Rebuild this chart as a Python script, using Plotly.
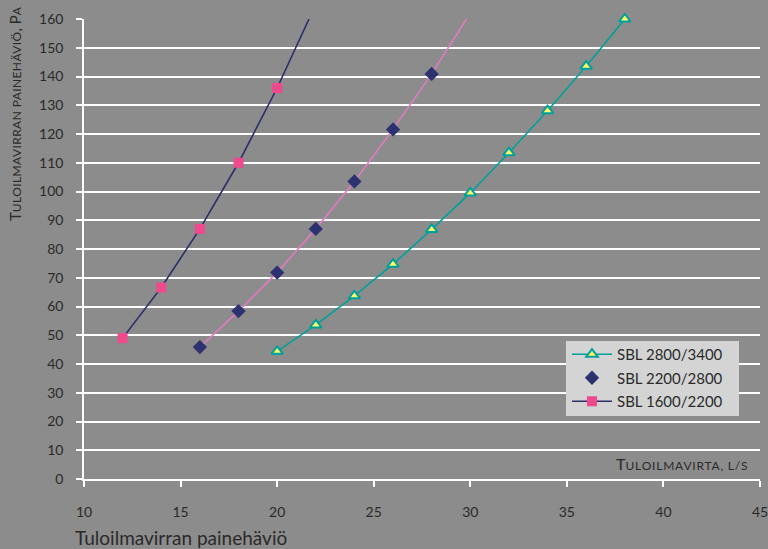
import plotly.graph_objects as go

# Data
x_2800 = [20, 22, 24, 26, 28, 30, 32, 34, 36, 38]
y_2800 = [44.4, 53.6, 63.7, 74.7, 86.8, 99.5, 113.5, 128.1, 143.6, 160]

x_2200 = [16, 18, 20, 22, 24, 26, 28]
y_2200 = [45.9, 58.4, 71.8, 87.0, 103.5, 121.6, 140.9]
# pink fitted line through 2200/2800 points (read end where it leaves the top)
x_2200_line = [16, 18, 20, 22, 24, 26, 28, 29.8]
y_2200_line = [45.9, 58.4, 71.8, 87.0, 103.5, 121.6, 140.9, 160]

x_1600 = [12, 14, 16, 18, 20]
y_1600 = [49.0, 66.6, 87.0, 110.0, 136.0]
# dark line continues beyond last marker to the top edge
x_1600_ext = [20, 21.65]
y_1600_ext = [136.0, 160]

x_ticks = [10, 15, 20, 25, 30, 35, 40, 45]
y_ticks = list(range(0, 161, 10))

FONT = "Lato"
TXT = "#2a2a2a"
BG = "#8c8c8c"

W, H = 768, 549
ML, MR, MT, MB = 84, 8, 19, 70
PW, PH = W - ML - MR, H - MT - MB


def px(xp):
    return (xp - ML) / PW


def py(yp):
    return (H - MB - yp) / PH


fig = go.Figure()

# helper line traces (no legend)
fig.add_trace(go.Scatter(x=x_2200_line, y=y_2200_line, mode="lines",
                         line=dict(color="#e07cbf", width=1.6),
                         showlegend=False, hoverinfo="skip"))
fig.add_trace(go.Scatter(x=x_1600_ext, y=y_1600_ext, mode="lines",
                         line=dict(color="#2c2d6b", width=1.6),
                         showlegend=False, hoverinfo="skip"))

fig.add_trace(go.Scatter(x=x_2800, y=y_2800, mode="lines+markers",
                         name="SBL 2800/3400", legendgroup="a",
                         cliponaxis=False,
                         line=dict(color="#00a09a", width=1.6),
                         marker=dict(symbol="triangle-up", size=10, color="#ffff66",
                                     line=dict(color="#00a09a", width=2))))
fig.add_trace(go.Scatter(x=x_2200, y=y_2200, mode="markers",
                         name="SBL 2200/2800", legendgroup="b",
                         marker=dict(symbol="diamond", size=11, color="#2e3170",
                                     line=dict(width=0))))
fig.add_trace(go.Scatter(x=x_1600, y=y_1600, mode="lines+markers",
                         name="SBL 1600/2200", legendgroup="c",
                         line=dict(color="#2c2d6b", width=1.6),
                         marker=dict(symbol="square", size=10, color="#ee4a8c",
                                     line=dict(width=0))))

# legend background box
fig.add_shape(type="rect", xref="paper", yref="paper",
              x0=px(566), x1=px(739), y0=py(416), y1=py(341),
              fillcolor="#d4d4d4", line=dict(width=0), layer="above")

fig.update_layout(
    width=W, height=H,
    margin=dict(l=ML, r=MR, t=MT, b=MB, autoexpand=False),
    paper_bgcolor=BG, plot_bgcolor=BG,
    font=dict(family=FONT, color=TXT, size=14),
    showlegend=True,
    legend=dict(x=px(567), y=py(338), xanchor="left", yanchor="top",
                bgcolor="rgba(0,0,0,0)", borderwidth=0,
                font=dict(family=FONT, size=15, color=TXT),
                tracegroupgap=1, itemwidth=40),
    xaxis=dict(range=[10, 45], tickvals=x_ticks, showgrid=False,
               automargin=False,
               zeroline=False, showline=True, linecolor="white", linewidth=1.5,
               ticks="outside", tickcolor="white", ticklen=6, tickwidth=1.5,
               ticklabelstandoff=13, ticklabeloverflow="allow",
               tickfont=dict(family=FONT, size=14, color=TXT)),
    yaxis=dict(range=[0, 160], tickvals=y_ticks, showgrid=True,
               automargin=False,
               gridcolor="white", gridwidth=1.5, zeroline=False,
               showline=True, linecolor="white", linewidth=1.5,
               ticks="outside", tickcolor="white", ticklen=6, tickwidth=1.5,
               ticklabelstandoff=10,
               tickfont=dict(family=FONT, size=14, color=TXT)),
)

scx = lambda s: f"<span style='font-size:12px;letter-spacing:0.8px'>{s}</span>"
scy = lambda s: f"<span style='font-size:12px;letter-spacing:0.4px'>{s}</span>"

fig.add_annotation(xref="paper", yref="paper", x=px(750), y=py(463),
                   xanchor="right", yanchor="middle", showarrow=False,
                   text="T" + scx("ULOILMAVIRTA, L/S"),
                   font=dict(family=FONT, size=16, color=TXT))
fig.add_annotation(xref="paper", yref="paper", x=px(15), y=py(114),
                   xanchor="center", yanchor="middle", showarrow=False,
                   textangle=-90,
                   text="T" + scy("ULOILMAVIRRAN PAINEHÄVIÖ") + ", P" + scy("A"),
                   font=dict(family=FONT, size=15, color=TXT))
fig.add_annotation(xref="paper", yref="paper", x=px(73), y=py(537),
                   xanchor="left", yanchor="middle", showarrow=False,
                   text="Tuloilmavirran painehäviö",
                   font=dict(family=FONT, size=19, color=TXT))

fig.write_html("out.html")
